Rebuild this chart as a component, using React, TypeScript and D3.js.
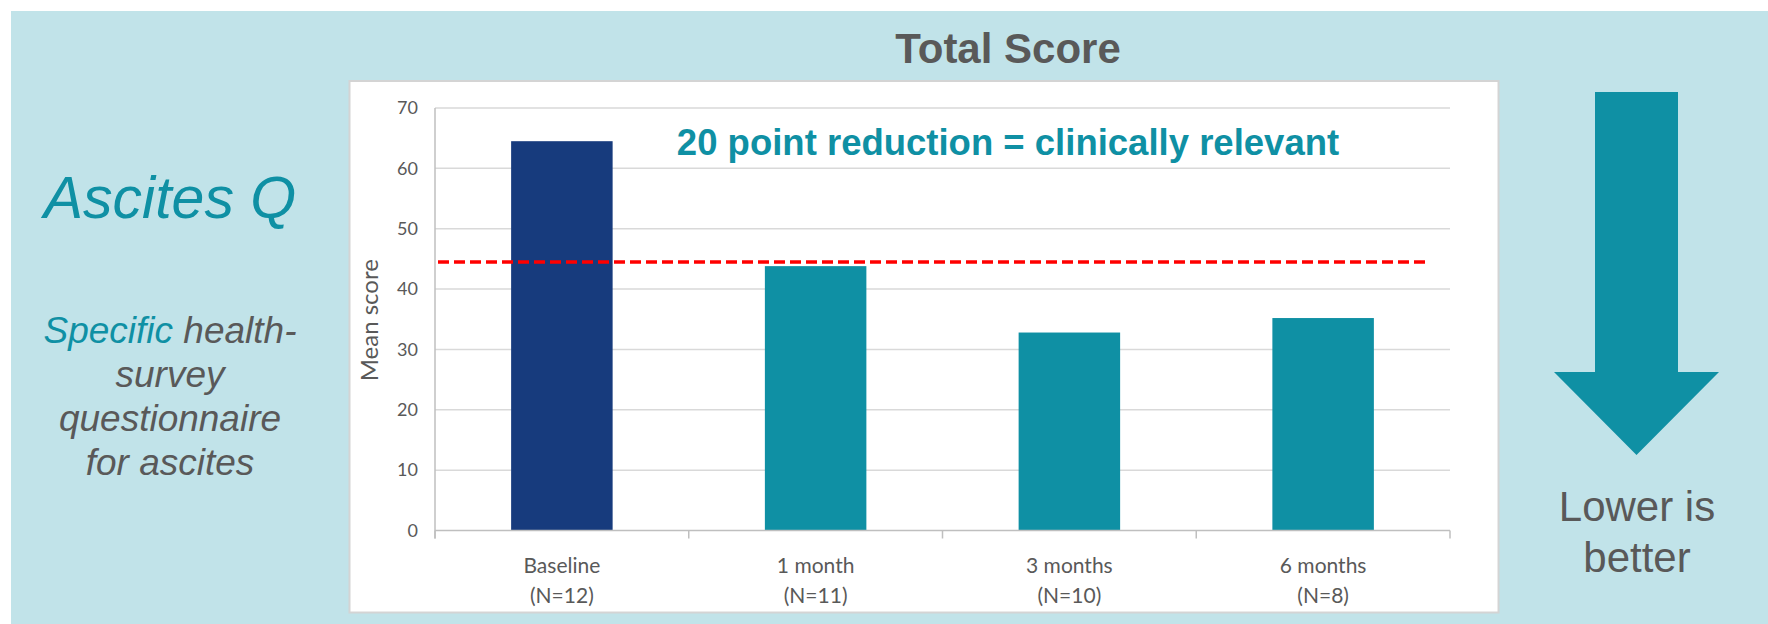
import React, { useEffect, useRef } from "react";
import * as d3 from "d3";

// chart data
const categories = ["Baseline", "1 month", "3 months", "6 months"];
const sampleSizes = ["(N=12)", "(N=11)", "(N=10)", "(N=8)"];
const meanScores = [64.5, 43.8, 32.8, 35.2];
const yTicks = [0, 10, 20, 30, 40, 50, 60, 70];
const relevantLevel = 44.5; // baseline minus 20 points

const W = 1768;
const H = 624;
const NAVY = "#173b7d";
const TEAL = "#0f90a4";
const GREY = "#595959";
const ARIAL = "'Liberation Sans', Arial, sans-serif";
const CALIBRI = "Lato, 'Noto Sans', sans-serif";

export default function App() {
  const ref = useRef<SVGSVGElement>(null);

  useEffect(() => {
    const svg = d3.select(ref.current);
    svg.selectAll("*").remove();

    const plot = { left: 435, right: 1450, top: 108, bottom: 530.5 };

    const x = d3.scaleBand().domain(categories).range([plot.left, plot.right]).padding(0);
    const y = d3.scaleLinear().domain([0, 70]).range([plot.bottom, plot.top]);

    // slide background + white chart panel
    svg.append("rect").attr("x", 11).attr("y", 11).attr("width", W - 11).attr("height", H - 11).attr("fill", "#c1e3e9");
    svg
      .append("rect")
      .attr("x", 349.5)
      .attr("y", 81)
      .attr("width", 1149)
      .attr("height", 531.5)
      .attr("fill", "#ffffff")
      .attr("stroke", "#d4d4d4")
      .attr("stroke-width", 2);

    // title
    svg
      .append("text")
      .attr("x", 1008)
      .attr("y", 63)
      .attr("text-anchor", "middle")
      .attr("font-family", ARIAL)
      .attr("font-weight", "bold")
      .attr("font-size", 42)
      .attr("fill", GREY)
      .text("Total Score");

    // gridlines
    svg
      .append("g")
      .selectAll("line")
      .data(yTicks.filter((t) => t > 0))
      .join("line")
      .attr("x1", plot.left)
      .attr("x2", plot.right)
      .attr("y1", (d) => y(d))
      .attr("y2", (d) => y(d))
      .attr("stroke", "#d9d9d9")
      .attr("stroke-width", 1.5);

    // y tick labels
    svg
      .append("g")
      .selectAll("text")
      .data(yTicks)
      .join("text")
      .attr("x", plot.left - 17)
      .attr("y", (d) => y(d))
      .attr("dy", "0.35em")
      .attr("text-anchor", "end")
      .attr("font-family", CALIBRI)
      .attr("font-size", 18)
      .attr("fill", GREY)
      .text((d) => d);

    // y axis title
    svg
      .append("text")
      .attr("transform", `translate(378, ${y(35) + 1}) rotate(-90)`)
      .attr("text-anchor", "middle")
      .attr("font-family", CALIBRI)
      .attr("font-size", 24)
      .attr("fill", GREY)
      .text("Mean score");

    // bars
    const bw = x.bandwidth();
    svg
      .append("g")
      .selectAll("rect")
      .data(meanScores)
      .join("rect")
      .attr("x", (d, i) => x(categories[i])! + bw * 0.3)
      .attr("width", bw * 0.4)
      .attr("y", (d) => y(d))
      .attr("height", (d) => y(0) - y(d))
      .attr("fill", (d, i) => (i === 0 ? NAVY : TEAL));

    // axes lines
    svg
      .append("line")
      .attr("x1", plot.left)
      .attr("x2", plot.left)
      .attr("y1", plot.top)
      .attr("y2", plot.bottom + 8)
      .attr("stroke", "#bfbfbf")
      .attr("stroke-width", 1.5);
    svg
      .append("line")
      .attr("x1", plot.left)
      .attr("x2", plot.right)
      .attr("y1", plot.bottom)
      .attr("y2", plot.bottom)
      .attr("stroke", "#bfbfbf")
      .attr("stroke-width", 1.5);
    svg
      .append("g")
      .selectAll("line")
      .data([...categories.map((c) => x(c)!), plot.right])
      .join("line")
      .attr("x1", (d) => d)
      .attr("x2", (d) => d)
      .attr("y1", plot.bottom)
      .attr("y2", plot.bottom + 8)
      .attr("stroke", "#bfbfbf")
      .attr("stroke-width", 1.5);

    // category labels (two lines)
    const lab = svg
      .append("g")
      .selectAll("text")
      .data(categories)
      .join("text")
      .attr("x", (d) => x(d)! + bw / 2)
      .attr("text-anchor", "middle")
      .attr("font-family", CALIBRI)
      .attr("font-size", 21)
      .attr("fill", GREY);
    lab.append("tspan").attr("y", 573).text((d) => d);
    lab
      .append("tspan")
      .attr("x", (d) => x(d)! + bw / 2)
      .attr("y", 603)
      .text((d, i) => sampleSizes[i]);

    // clinically relevant threshold
    svg
      .append("line")
      .attr("x1", plot.left + 3)
      .attr("x2", plot.left + (plot.right - plot.left) * 0.979)
      .attr("y1", y(relevantLevel))
      .attr("y2", y(relevantLevel))
      .attr("stroke", "#ff0000")
      .attr("stroke-width", 3.5)
      .attr("stroke-dasharray", "11,5");

    svg
      .append("text")
      .attr("x", 1008)
      .attr("y", 155)
      .attr("text-anchor", "middle")
      .attr("font-family", ARIAL)
      .attr("font-weight", "bold")
      .attr("font-size", 36.5)
      .attr("fill", TEAL)
      .text("20 point reduction = clinically relevant");

    // left side text
    svg
      .append("text")
      .attr("x", 170)
      .attr("y", 218)
      .attr("text-anchor", "middle")
      .attr("font-family", ARIAL)
      .attr("font-style", "italic")
      .attr("font-size", 59)
      .attr("fill", TEAL)
      .text("Ascites Q");

    const desc = svg
      .append("text")
      .attr("text-anchor", "middle")
      .attr("font-family", ARIAL)
      .attr("font-style", "italic")
      .attr("font-size", 37)
      .attr("fill", GREY);
    const first = desc.append("tspan").attr("x", 170).attr("y", 343);
    first.append("tspan").attr("fill", TEAL).text("Specific");
    first.append("tspan").text(" health-");
    ["survey", "questionnaire", "for ascites"].forEach((t, i) => {
      desc.append("tspan").attr("x", 170).attr("y", 387 + i * 44).text(t);
    });

    // "lower is better" arrow
    const arrow = d3.path();
    arrow.moveTo(1595, 92);
    arrow.lineTo(1678, 92);
    arrow.lineTo(1678, 372);
    arrow.lineTo(1719, 372);
    arrow.lineTo(1636.5, 455);
    arrow.lineTo(1554, 372);
    arrow.lineTo(1595, 372);
    arrow.closePath();
    svg.append("path").attr("d", arrow.toString()).attr("fill", TEAL);

    const lower = svg
      .append("text")
      .attr("text-anchor", "middle")
      .attr("font-family", ARIAL)
      .attr("font-size", 42)
      .attr("fill", GREY);
    lower.append("tspan").attr("x", 1637).attr("y", 521).text("Lower is");
    lower.append("tspan").attr("x", 1637).attr("y", 572).text("better");
  }, []);

  return (
    <svg
      ref={ref}
      width={W}
      height={H}
      style={{ position: "absolute", left: 0, top: 0, background: "#ffffff" }}
    ></svg>
  );
}
